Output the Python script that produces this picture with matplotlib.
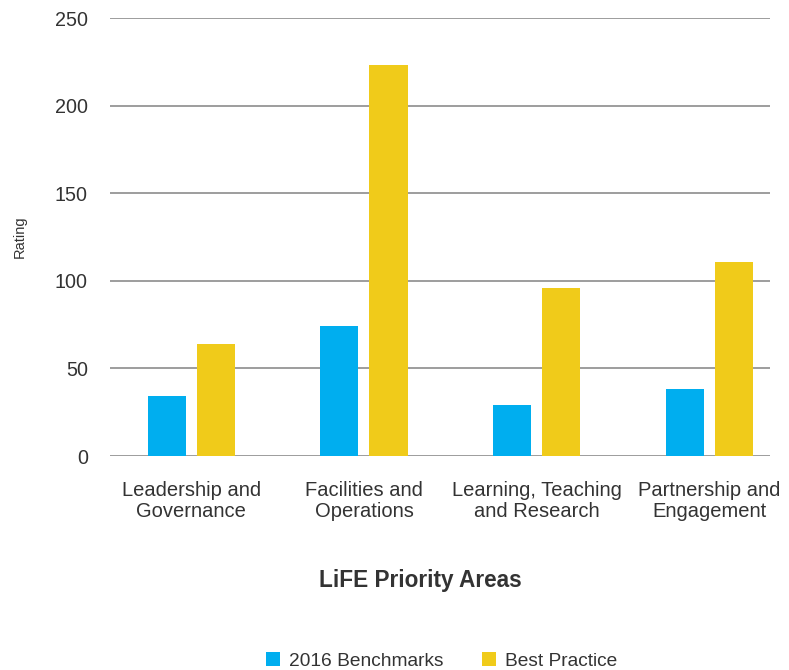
import matplotlib
matplotlib.use("Agg")
import matplotlib.pyplot as plt
import numpy as np

plt.rcParams["font.family"] = ["Liberation Sans", "DejaVu Sans"]

areas = ["Leadership and\nGovernance", "Facilities and\nOperations",
         "Learning, Teaching\nand Research", "Partnership and\nEngagement"]
benchmarks = [34, 74, 29, 38]
best_practice = [64, 223, 96, 111]
series_names = ["2016 Benchmarks", "Best Practice"]

blue = "#00AEEF"
yellow = "#F0CB1A"
txt = "#333333"

fig = plt.figure(figsize=(7.89, 6.70), dpi=100)
ax = fig.add_axes([0.1394, 0.3194, 0.9759 - 0.1394, 0.9731 - 0.3194])

x = np.arange(len(areas))
w = 0.22
off = 0.142
ax.bar(x - off, benchmarks, w, color=blue, label=series_names[0], zorder=3)
ax.bar(x + off, best_practice, w, color=yellow, label=series_names[1], zorder=3)

ax.set_ylim(0, 250)
ax.set_xlim(-0.47, 3.35)
ax.set_yticks([0, 50, 100, 150, 200, 250])
ax.yaxis.grid(True, color="#8c8c8c", linewidth=1.2, zorder=0)
ax.set_axisbelow(True)
for s in ax.spines.values():
    s.set_visible(False)

ax.set_xticks(x)
ax.set_xticklabels(areas, fontsize=14.5, color=txt, linespacing=1.15)
ax.tick_params(axis="x", length=0, pad=18)
ax.tick_params(axis="y", length=0, pad=16, labelsize=14.2, labelcolor=txt)

ax.set_ylabel("Rating", fontsize=10.5, color=txt, labelpad=20)

fig.text(420 / 789, 1 - 580 / 670, "LiFE Priority Areas", fontsize=16.3,
         fontweight="bold", color=txt, ha="center", va="center")

fig.legend(loc="center", bbox_to_anchor=(442 / 789, 1 - 661 / 670), ncol=2, frameon=False,
           fontsize=13.8, handlelength=0.7, handleheight=0.7, handletextpad=0.5,
           columnspacing=2.0, labelcolor=txt)

fig.savefig("out.png", dpi=100)
